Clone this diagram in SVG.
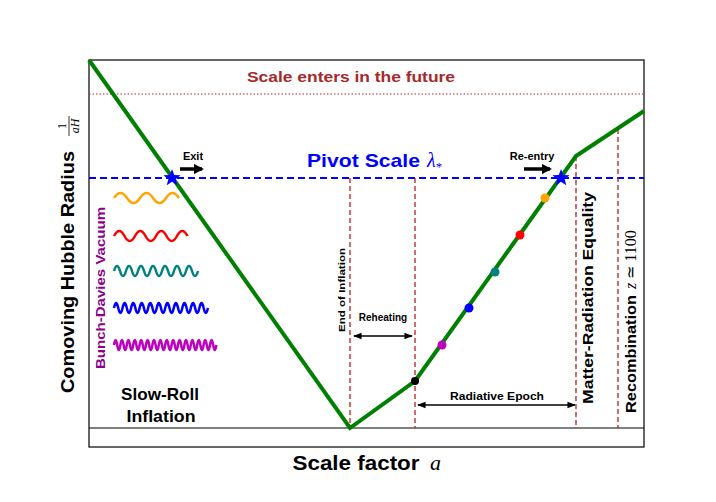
<svg xmlns="http://www.w3.org/2000/svg" width="716" height="502" viewBox="0 0 716 502">
<style>
.b{font-family:"Liberation Sans","DejaVu Sans",sans-serif;font-weight:bold}
.m{font-family:"Liberation Serif","DejaVu Serif",serif;font-style:italic}
.rd{stroke:#b22222;stroke-width:1.3;stroke-dasharray:5 3;fill:none}
.wave{fill:none;stroke-width:2.5}
</style>
<defs>
<marker id="ah" viewBox="0 0 10 10" refX="8" refY="5" markerWidth="3" markerHeight="3" orient="auto"><path d="M0 0L10 5L0 10z" fill="#000"/></marker>
<marker id="ha" viewBox="0 0 10 10" refX="9" refY="5" markerWidth="6" markerHeight="6" orient="auto-start-reverse"><path d="M0 1L10 5L0 9z" fill="#000"/></marker>
<polygon id="star" points="0,-9 2.23,-3.07 8.56,-2.78 3.61,1.17 5.29,7.28 0,3.8 -5.29,7.28 -3.61,1.17 -8.56,-2.78 -2.23,-3.07" fill="#0000ff"/>
</defs>
<rect width="716" height="502" fill="#fff"/>
<g id="frame">
<rect x="89" y="60" width="555" height="387" fill="none" stroke="#000" stroke-width="1.2"/>
<line x1="89" y1="428" x2="644" y2="428" stroke="#000" stroke-width="1.2"/>
</g>
<g id="connectors">
<line x1="89" y1="94" x2="644" y2="94" stroke="#b22222" stroke-width="1" stroke-dasharray="1.5 2"/>
<line x1="89" y1="178" x2="644" y2="178" stroke="#0000ff" stroke-width="1.8" stroke-dasharray="7 4"/>
<line class="rd" x1="350" y1="178" x2="350" y2="428"/>
<line class="rd" x1="415" y1="178" x2="415" y2="428"/>
<line class="rd" x1="576" y1="156" x2="576" y2="428" stroke-dasharray="3 2"/>
<line class="rd" x1="618" y1="129" x2="618" y2="428"/>
<polyline points="89,60 350,428 415,381 576,156 644,111" fill="none" stroke="#008000" stroke-width="4" stroke-linejoin="miter"/>
<line x1="180" y1="169" x2="202" y2="169" stroke="#000" stroke-width="3.5" marker-end="url(#ah)"/>
<line x1="524" y1="169" x2="550" y2="169" stroke="#000" stroke-width="3.5" marker-end="url(#ah)"/>
<line x1="354" y1="336" x2="412" y2="336" stroke="#000" stroke-width="1.4" marker-start="url(#ha)" marker-end="url(#ha)"/>
<line x1="418" y1="405" x2="575" y2="405" stroke="#000" stroke-width="1.4" marker-start="url(#ha)" marker-end="url(#ha)"/>
</g>
<g id="stars">
<use href="#star" x="172" y="178"/>
<use href="#star" x="561" y="178"/>
</g>
<g id="dots">
<circle cx="415" cy="381" r="4" fill="#000"/>
<circle cx="442" cy="345" r="4.5" fill="#bf00bf"/>
<circle cx="469" cy="308" r="4.5" fill="#0000ff"/>
<circle cx="495" cy="272" r="4.5" fill="#008080"/>
<circle cx="520" cy="235" r="4.5" fill="#ff0000"/>
<circle cx="545" cy="198" r="4.5" fill="#ffa500"/>
</g>
<g id="waves">
<path class="wave" stroke="#ffa500" d="M114 198q6.5 -10 13 0t13 0t13 0t13 0t13 0"/>
<path class="wave" stroke="#ff0000" d="M114 236q5.25 -10 10.5 0t10.5 0t10.5 0t10.5 0t10.5 0t10.5 0t10.5 0"/>
<path class="wave" stroke="#008080" d="M114 271q3 -10 6 0t6 0t6 0t6 0t6 0t6 0t6 0t6 0t6 0t6 0t6 0t6 0t6 0t6 0"/>
<path class="wave" stroke="#0000ff" d="M114 308q2.135 -10 4.27 0t4.27 0t4.27 0t4.27 0t4.27 0t4.27 0t4.27 0t4.27 0t4.27 0t4.27 0t4.27 0t4.27 0t4.27 0t4.27 0t4.27 0t4.27 0t4.27 0t4.27 0t4.27 0t4.27 0t4.27 0t4.27 0"/>
<path class="wave" stroke="#bf00bf" d="M114 345q1.6 -10 3.2 0t3.2 0t3.2 0t3.2 0t3.2 0t3.2 0t3.2 0t3.2 0t3.2 0t3.2 0t3.2 0t3.2 0t3.2 0t3.2 0t3.2 0t3.2 0t3.2 0t3.2 0t3.2 0t3.2 0t3.2 0t3.2 0t3.2 0t3.2 0t3.2 0t3.2 0t3.2 0t3.2 0t3.2 0t3.2 0t3.2 0t3.2 0"/>
</g>
<g id="labels">
<text class="b" x="351" y="82" font-size="15" fill="#a52a2a" text-anchor="middle" textLength="208" lengthAdjust="spacingAndGlyphs">Scale enters in the future</text>
<text class="b" x="307" y="167" font-size="19" fill="#0000ff" textLength="113" lengthAdjust="spacingAndGlyphs">Pivot Scale</text>
<text class="m" x="427" y="167" font-size="20" fill="#0000ff">λ<tspan font-size="13" dy="4" font-style="normal">*</tspan></text>
<text class="b" x="193" y="160" font-size="11" text-anchor="middle">Exit</text>
<text class="b" x="532" y="160" font-size="11" text-anchor="middle">Re-entry</text>
<text class="b" x="383" y="321" font-size="10" text-anchor="middle">Reheating</text>
<text class="b" x="497" y="400" font-size="11" text-anchor="middle" textLength="94" lengthAdjust="spacingAndGlyphs">Radiative Epoch</text>
<text class="b" font-size="9" text-anchor="middle" transform="translate(345,290) rotate(-90)" textLength="84" lengthAdjust="spacingAndGlyphs">End of Inflation</text>
<text class="b" font-size="15" text-anchor="middle" transform="translate(593,298) rotate(-90)" textLength="212" lengthAdjust="spacingAndGlyphs">Matter-Radiation Equality</text>
<text transform="translate(636,413) rotate(-90)"><tspan class="b" font-size="15" textLength="118" lengthAdjust="spacingAndGlyphs">Recombination</tspan><tspan class="m" font-size="16" dx="6">z</tspan><tspan font-family="Liberation Serif,serif" font-size="16"> ≃ 1100</tspan></text>
<text class="b" font-size="13" fill="#8b008b" text-anchor="middle" transform="translate(105,288) rotate(-90)" textLength="162" lengthAdjust="spacingAndGlyphs">Bunch-Davies Vacuum</text>
<text class="b" x="160" y="400" font-size="17" text-anchor="middle" textLength="78" lengthAdjust="spacingAndGlyphs">Slow-Roll</text>
<text class="b" x="161" y="422" font-size="17" text-anchor="middle" textLength="69" lengthAdjust="spacingAndGlyphs">Inflation</text>
<text class="b" x="356" y="470" font-size="20" text-anchor="middle" textLength="127" lengthAdjust="spacingAndGlyphs">Scale factor</text>
<text class="m" x="430" y="470" font-size="22">a</text>
<text class="b" font-size="19" text-anchor="middle" transform="translate(74,272) rotate(-90)" textLength="242" lengthAdjust="spacingAndGlyphs">Comoving Hubble Radius</text>
<g transform="translate(70,126) rotate(-90)">
<text font-family="Liberation Serif,serif" font-size="12" x="0" y="-4" text-anchor="middle">1</text>
<line x1="-10" y1="-1" x2="10" y2="-1" stroke="#000" stroke-width="0.8"/>
<text class="m" font-size="12" x="0" y="9" text-anchor="middle">aH</text>
</g>
</g>
</svg>
